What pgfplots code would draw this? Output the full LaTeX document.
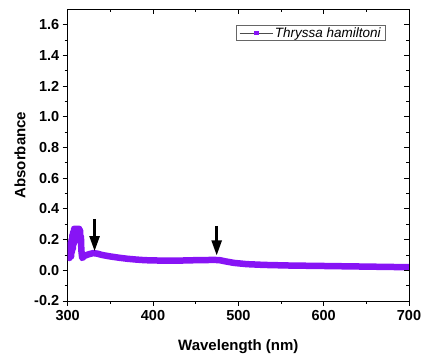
\documentclass[border=0pt]{standalone}
\usepackage{pgfplots}
\pgfplotsset{compat=1.18}
\usepackage{fontspec}
\setmainfont{Liberation Sans}
\usetikzlibrary{arrows.meta}
\definecolor{spec}{RGB}{135,20,245}
\begin{document}
\begin{tikzpicture}
\path[use as bounding box] (-67.7pt,-57pt) rectangle (356.3pt,301pt);
\begin{axis}[
  at={(0,0)}, anchor=south west,
  scale only axis, width=341.3pt, height=291.7pt,
  xmin=300, xmax=700, ymin=-0.2, ymax=1.7,
  xtick={300,400,500,600,700},
  xticklabels={300,400,500,600,700},
  ytick={-0.2,0,0.2,0.4,0.6,0.8,1.0,1.2,1.4,1.6},
  yticklabels={-0.2,0.0,0.2,0.4,0.6,0.8,1.0,1.2,1.4,1.6},
  minor x tick num=1, minor y tick num=1,
  tick align=outside, xtick pos=bottom, ytick pos=left,
  major tick length=5pt, minor tick length=3pt,
  axis line style={line width=0.8pt},
  every tick/.style={line width=0.8pt, black},
  tick label style={font=\fontsize{14.5}{14.5}\selectfont\bfseries},
  xticklabel style={yshift=-1pt},
  xlabel={Wavelength (nm)}, ylabel={Absorbance},
  label style={font=\fontsize{15}{15}\selectfont\bfseries},
  xlabel style={at={(axis description cs:0.5,-0.1577)}, anchor=center},
  ylabel style={at={(axis description cs:-0.1398,0.5)}, anchor=center},
  legend style={at={(axis description cs:0.493,0.946)}, anchor=north west,
    draw=black!60, line width=0.5pt, inner xsep=3pt, inner ysep=0pt,
    font=\fontsize{13.5}{13.5}\selectfont\itshape},
  legend cell align=left,
  clip=true,
]
\addplot[spec, line width=6.5pt, line join=round,
  legend image code/.code={
    \draw[black!70, line width=0.6pt] (0pt,0pt) -- (33pt,0pt);
    \path[fill=spec, draw=none] (14.8pt,-2.2pt) rectangle (19.2pt,2.2pt);
  }] coordinates {
(300,0.08) (300.5,0.12) (301,0.09) (301.5,0.15) (302,0.08) (302.5,0.17)
(303,0.10) (303.5,0.18) (304,0.09) (304.5,0.20) (305,0.12) (305.5,0.23)
(306,0.14) (306.5,0.25) (307,0.17) (307.5,0.27) (308,0.20) (308.5,0.27)
(309,0.21) (309.5,0.27) (310,0.20) (310.5,0.27) (311,0.22) (311.5,0.27)
(312,0.21) (312.5,0.27) (313,0.22) (313.5,0.27) (314,0.20) (314.5,0.26)
(315,0.18) (315.5,0.22) (316,0.13) (317,0.08)
(318,0.085) (320,0.095) (325,0.105) (330,0.112) (335,0.108) (340,0.100)
(350,0.090) (360,0.082) (370,0.075) (380,0.070) (390,0.066) (400,0.064)
(420,0.063) (440,0.064) (450,0.066) (460,0.066) (470,0.068) (478,0.066)
(485,0.058) (495,0.048) (510,0.040) (530,0.035) (560,0.031) (600,0.028)
(650,0.024) (700,0.020)
};
\addlegendentry{Thryssa hamiltoni}
\draw[black, line width=2.4pt, -{Triangle[length=15pt,width=10pt]}] (axis cs:331.5,0.335) -- (axis cs:331.5,0.125);
\draw[black, line width=2.4pt, -{Triangle[length=15pt,width=10pt]}] (axis cs:474.6,0.29) -- (axis cs:474.6,0.097);
\end{axis}
\begin{axis}[
  at={(0,0)}, anchor=south west,
  scale only axis, width=341.3pt, height=291.7pt,
  xmin=300, xmax=700, ymin=-0.2, ymax=1.7,
  xtick={300,400,500,600,700},
  ytick={-0.2,0,0.2,0.4,0.6,0.8,1.0,1.2,1.4,1.6},
  xticklabels={}, yticklabels={},
  minor x tick num=1, minor y tick num=1,
  tick align=inside, xtick pos=top, ytick pos=right,
  major tick length=5pt, minor tick length=3pt,
  axis line style={draw=none},
  every tick/.style={line width=0.8pt, black},
]
\end{axis}
\end{tikzpicture}
\end{document}
